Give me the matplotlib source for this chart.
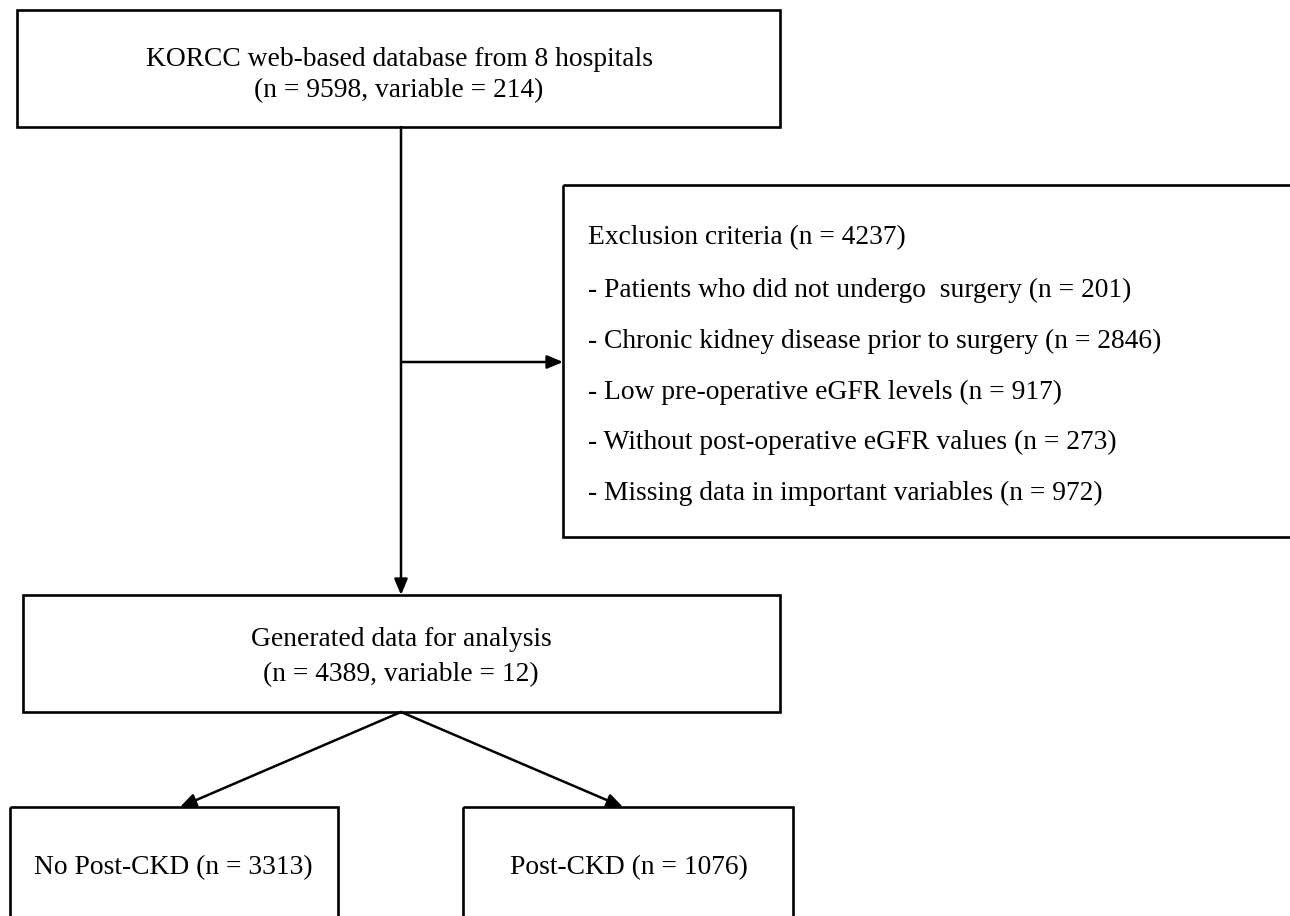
import matplotlib
matplotlib.use("Agg")
import matplotlib.pyplot as plt
from matplotlib.patches import Rectangle

# ---- content ----
top_lines = ["KORCC web-based database from 8 hospitals", "(n = 9598, variable = 214)"]
excl_title = "Exclusion criteria (n = 4237)"
excl_items = [
    "- Patients who did not undergo  surgery (n = 201)",
    "- Chronic kidney disease prior to surgery (n = 2846)",
    "- Low pre-operative eGFR levels (n = 917)",
    "- Without post-operative eGFR values (n = 273)",
    "- Missing data in important variables (n = 972)",
]
mid_lines = ["Generated data for analysis", "(n = 4389, variable = 12)"]
bottom_labels = ["No Post-CKD (n = 3313)", "Post-CKD (n = 1076)"]

W, H = 1290, 916
fig = plt.figure(figsize=(W / 100, H / 100), dpi=100)
ax = fig.add_axes([0, 0, 1, 1])
ax.set_xlim(0, W)
ax.set_ylim(H, 0)
ax.axis("off")

FONT = "Liberation Serif"
FS = 19.8
box_lw = 1.9
arr_lw = 1.8


def box(x0, y0, x1, y1):
    ax.add_patch(Rectangle((x0, y0), x1 - x0, y1 - y0, fill=False,
                           edgecolor="black", linewidth=box_lw, clip_on=False))


def arrow(x0, y0, x1, y1):
    ax.annotate("", xy=(x1, y1), xytext=(x0, y0),
                arrowprops=dict(arrowstyle="-|>,head_length=0.95,head_width=0.4",
                                color="black", lw=arr_lw,
                                shrinkA=0, shrinkB=0))


def txt(x, y, s, ha="center"):
    ax.text(x, y, s, ha=ha, va="center", family=FONT, fontsize=FS)


# top box
box(17, 10, 780, 127)
txt(399, 60, top_lines[0])
txt(399, 91, top_lines[1])

# exclusion box (extends beyond the right edge)
box(563, 185, 1310, 537)
ys = [238, 290, 341, 392, 442, 493]
txt(588, ys[0], excl_title, ha="left")
for y, t in zip(ys[1:], excl_items):
    txt(588, y, t, ha="left")

# vertical flow and side branch
arrow(401, 127, 401, 595)
arrow(401, 362, 563, 362)

# middle box
box(23, 595, 780, 712)
txt(401, 640, mid_lines[0])
txt(401, 675, mid_lines[1])

# split arrows
arrow(401, 712, 180, 807)
arrow(401, 712, 623, 807)

# bottom boxes (cut off at bottom)
box(10, 807, 338, 940)
box(463, 807, 793, 940)
txt(173, 868, bottom_labels[0])
txt(629, 868, bottom_labels[1])

fig.savefig("out.png", dpi=100, facecolor="white")
